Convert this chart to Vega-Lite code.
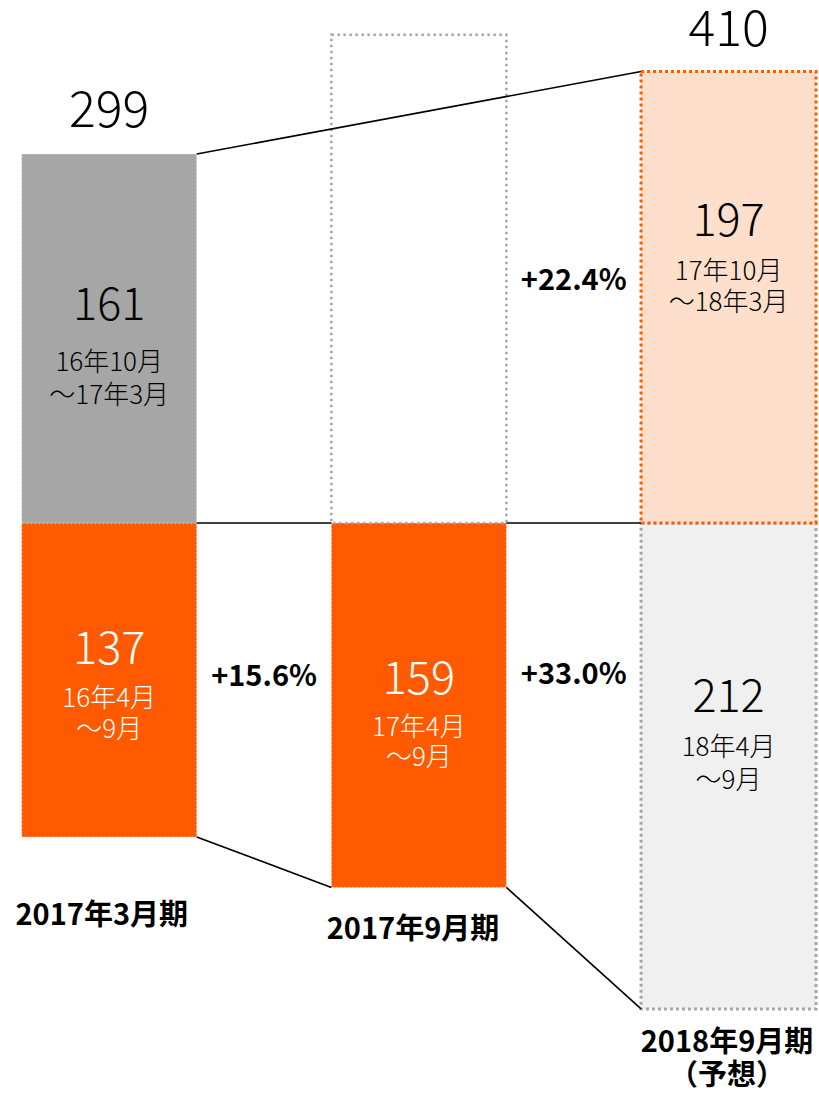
{
  "$schema": "https://vega.github.io/schema/vega-lite/v6.json",
  "width": 819,
  "height": 1093,
  "autosize": "none",
  "padding": 0,
  "background": "#ffffff",
  "config": {"view": {"stroke": null}},
  "datasets": {
    "segments": [
      {"period": "2017年3月期", "x": 0, "half": "上期", "status": "実績", "y": -137},
      {"period": "2017年3月期", "x": 0, "half": "下期", "status": "実績", "y": 161},
      {"period": "2017年9月期", "x": 1, "half": "上期", "status": "実績", "y": -159},
      {"period": "2017年9月期", "x": 1, "half": "下期", "status": "未定", "y": 213},
      {"period": "2018年9月期", "x": 2, "half": "上期", "status": "予想", "y": -212},
      {"period": "2018年9月期", "x": 2, "half": "下期", "status": "予想", "y": 197}
    ],
    "links": [
      {"x": 0, "x2": 2, "y": 161, "y2": 197},
      {"x": 0, "x2": 1, "y": 0, "y2": 0},
      {"x": 1, "x2": 2, "y": 0, "y2": 0},
      {"x": 0, "x2": 1, "y": -137, "y2": -159},
      {"x": 1, "x2": 2, "y": -159, "y2": -212}
    ],
    "labels": [
      {"x": 0, "y": 179.5, "text": "299", "role": "total"},
      {"x": 2, "y": 214.5, "text": "410", "role": "total"},
      {"x": 0, "y": 94.5, "text": "161", "role": "value", "half": "下期", "status": "実績"},
      {"x": 0, "y": 69.8, "text": "16年10月", "role": "sub", "half": "下期", "status": "実績"},
      {"x": 0, "y": 55.4, "text": "～17年3月", "role": "sub", "half": "下期", "status": "実績"},
      {"x": 0, "y": -55.4, "text": "137", "role": "value", "half": "上期", "status": "実績"},
      {"x": 0, "y": -76.8, "text": "16年4月", "role": "sub", "half": "上期", "status": "実績"},
      {"x": 0, "y": -90.3, "text": "～9月", "role": "sub", "half": "上期", "status": "実績"},
      {"x": 1, "y": -68.5, "text": "159", "role": "value", "half": "上期", "status": "実績"},
      {"x": 1, "y": -89.4, "text": "17年4月", "role": "sub", "half": "上期", "status": "実績"},
      {"x": 1, "y": -102.5, "text": "～9月", "role": "sub", "half": "上期", "status": "実績"},
      {"x": 2, "y": 131.3, "text": "197", "role": "value", "half": "下期", "status": "予想"},
      {"x": 2, "y": 109.5, "text": "17年10月", "role": "sub", "half": "下期", "status": "予想"},
      {"x": 2, "y": 96.0, "text": "～18年3月", "role": "sub", "half": "下期", "status": "予想"},
      {"x": 2, "y": -76.4, "text": "212", "role": "value", "half": "上期", "status": "予想"},
      {"x": 2, "y": -98.2, "text": "18年4月", "role": "sub", "half": "上期", "status": "予想"},
      {"x": 2, "y": -112.6, "text": "～9月", "role": "sub", "half": "上期", "status": "予想"},
      {"x": 1.5, "y": 105.6, "text": "+22.4%", "role": "pct"},
      {"x": 0.5, "y": -67.2, "text": "+15.6%", "role": "pct"},
      {"x": 1.5, "y": -66.3, "text": "+33.0%", "role": "pct"},
      {"x": -0.024, "y": -171.5, "text": "2017年3月期", "role": "cat"},
      {"x": 0.981, "y": -177.6, "text": "2017年9月期", "role": "cat"},
      {"x": 1.995, "y": -226.9, "text": "2018年9月期", "role": "cat"},
      {"x": 1.995, "y": -241.3, "text": "（予想）", "role": "cat"}
    ]
  },
  "encoding": {
    "x": {"field": "x", "type": "quantitative", "axis": null, "scale": {"domain": [-0.3365, 2.2759], "nice": false, "zero": false}},
    "y": {"field": "y", "type": "quantitative", "axis": null, "scale": {"domain": [-248.7, 228.2], "nice": false, "zero": false}}
  },
  "layer": [
    {
      "data": {"name": "segments"},
      "transform": [{"filter": "datum.status === '実績'"}],
      "mark": {"type": "bar", "orient": "vertical", "width": 175, "stroke": "#ffffff", "strokeOpacity": 0.5, "strokeDash": [2, 2], "strokeWidth": 1},
      "encoding": {
        "y2": {"datum": 0},
        "color": {"field": "half", "type": "nominal", "legend": null, "scale": {"domain": ["上期", "下期"], "range": ["#FF5A00", "#A6A6A6"]}}
      }
    },
    {
      "data": {"name": "segments"},
      "transform": [{"filter": "datum.status === '未定'"}],
      "mark": {"type": "bar", "orient": "vertical", "width": 175, "fill": "#ffffff", "stroke": "#A6A6A6", "strokeDash": [2.5, 3.5], "strokeWidth": 2.5},
      "encoding": {"y2": {"datum": 0}}
    },
    {
      "data": {"name": "segments"},
      "transform": [{"filter": "datum.status === '予想'"}],
      "mark": {"type": "bar", "orient": "vertical", "width": 175, "strokeDash": [3, 3], "strokeWidth": 3},
      "encoding": {
        "y2": {"datum": 0},
        "fill": {"field": "half", "type": "nominal", "legend": null, "scale": {"domain": ["上期", "下期"], "range": ["#F0F0F0", "#FDDFCB"]}},
        "stroke": {"field": "half", "type": "nominal", "legend": null, "scale": {"domain": ["上期", "下期"], "range": ["#A6A6A6", "#FF5A00"]}}
      }
    },
    {
      "data": {"name": "links"},
      "mark": {"type": "rule", "color": "#000000", "strokeWidth": 1.6, "xOffset": 87.5, "x2Offset": -87.5},
      "encoding": {
        "x2": {"field": "x2"},
        "y2": {"field": "y2"}
      }
    },
    {
      "data": {"name": "labels"},
      "transform": [{"filter": "datum.role === 'total'"}],
      "mark": {"type": "text", "font": "Noto Sans CJK JP", "fontSize": 50, "fontWeight": 300, "align": "center", "baseline": "middle", "color": "#000000"},
      "encoding": {"text": {"field": "text"}}
    },
    {
      "data": {"name": "labels"},
      "transform": [{"filter": "datum.role === 'value'"}],
      "mark": {"type": "text", "font": "Noto Sans CJK JP", "fontSize": 45, "fontWeight": 300, "align": "center", "baseline": "middle"},
      "encoding": {
        "text": {"field": "text"},
        "color": {"condition": {"test": "datum.status === '実績' && datum.half === '上期'", "value": "#ffffff"}, "value": "#000000"}
      }
    },
    {
      "data": {"name": "labels"},
      "transform": [{"filter": "datum.role === 'sub'"}],
      "mark": {"type": "text", "font": "Noto Sans CJK JP", "fontSize": 26, "fontWeight": 300, "align": "center", "baseline": "middle"},
      "encoding": {
        "text": {"field": "text"},
        "color": {"condition": {"test": "datum.status === '実績' && datum.half === '上期'", "value": "#ffffff"}, "value": "#000000"}
      }
    },
    {
      "data": {"name": "labels"},
      "transform": [{"filter": "datum.role === 'pct'"}],
      "mark": {"type": "text", "font": "Noto Sans CJK JP", "fontSize": 29, "fontWeight": "bold", "align": "center", "baseline": "middle", "color": "#000000"},
      "encoding": {"text": {"field": "text"}}
    },
    {
      "data": {"name": "labels"},
      "transform": [{"filter": "datum.role === 'cat'"}],
      "mark": {"type": "text", "font": "Noto Sans CJK JP", "fontSize": 29, "fontWeight": "bold", "align": "center", "baseline": "middle", "color": "#000000"},
      "encoding": {"text": {"field": "text"}}
    }
  ],
  "resolve": {"scale": {"color": "independent", "fill": "independent", "stroke": "independent"}}
}
